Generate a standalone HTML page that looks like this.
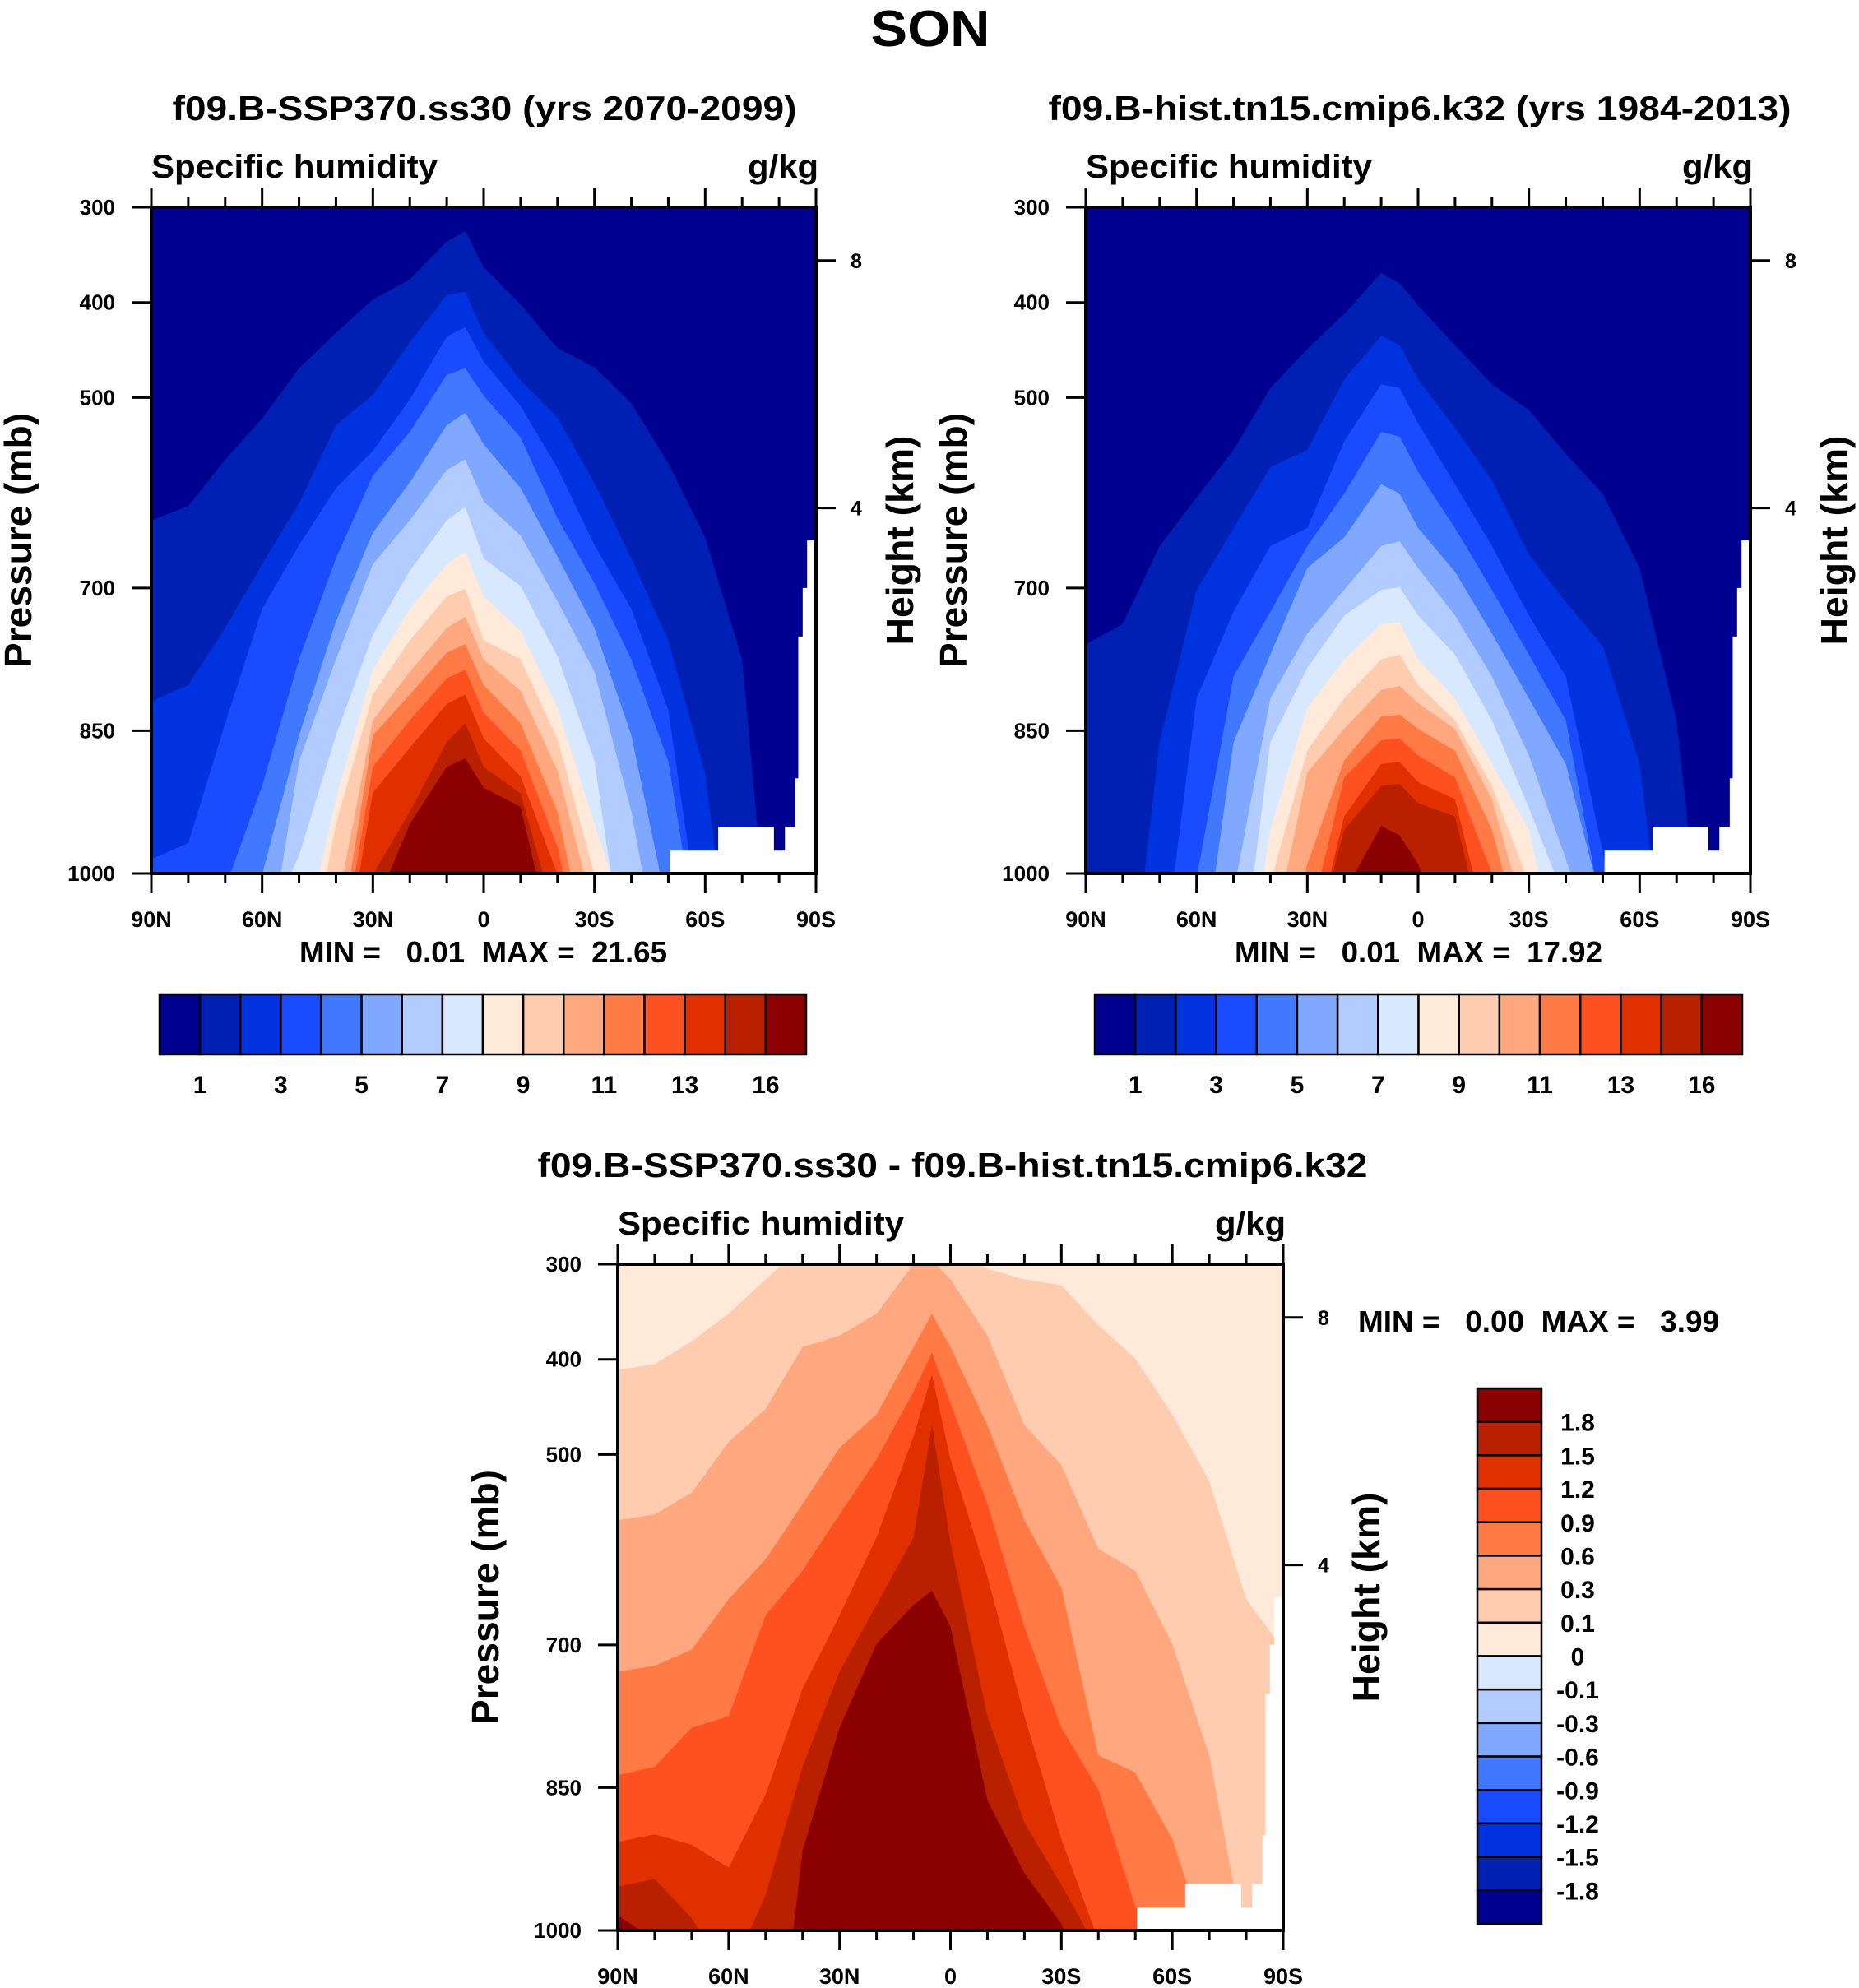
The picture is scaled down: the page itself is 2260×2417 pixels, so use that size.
<!DOCTYPE html>
<html><head><meta charset="utf-8">
<style>
html,body{margin:0;padding:0;background:#fff;overflow:hidden;width:2260px;height:2417px;}
svg{display:block;font-family:"Liberation Sans",Arial,sans-serif;font-weight:bold;}
</style></head>
<body>
<svg id="fig" width="2260" height="2417" viewBox="0 0 2260 2417" xmlns="http://www.w3.org/2000/svg">
<text x="1131" y="56" font-size="62" text-anchor="middle" textLength="145" lengthAdjust="spacingAndGlyphs">SON</text>
<g id="gA"></g>
<g id="gB"></g>
<g id="gC"></g>
</svg>
<script>
// ---- data ----
const lats = [90,80,70,60,50,40,30,20,10,5,0,-10,-20,-30,-40,-50,-60,-70,-80,-90];
const qColors = ['#000090','#0020b4','#0033e0','#1a4cff','#4078ff','#80a8ff','#b3ccff','#d8e8ff','#ffeada','#ffccb0','#ffa880','#ff7a45','#ff5020','#e03000','#b82000','#8b0000'];
const qLevelLabels = ['1','2','3','4','5','6','7','8','9','10','11','12','13','14','16'];
const diffLevelLabels = ['1.8','1.5','1.2','0.9','0.6','0.3','0.1','0','-0.1','-0.3','-0.6','-0.9','-1.2','-1.5','-1.8'];
// pressure (mb) where each contour level is crossed, per latitude (1200 = not present)
const sspQ1 = [629,614,565,522,469,432,397,376,336,325,363,402,448,468,506,569,647,775,1200,1200];
const sspQ2 = [819,802,742,675,611,529,497,442,392,389,432,482,521,590,669,755,895,1200,1200,1200];
const sspQ3 = [985,968,842,722,655,595,556,502,436,426,462,509,574,655,722,828,1095,1200,1200,1200];
const sspQ4 = [1200,1200,1015,908,775,669,582,536,476,469,498,542,627,695,775,882,1121,1200,1200,1200];
const sspQ5 = [1200,1200,1200,1001,855,735,642,589,529,516,549,595,667,742,855,1041,1200,1200,1200,1200];
const sspQ6 = [1200,1200,1200,1121,882,775,675,629,576,565,609,645,714,788,935,1148,1200,1200,1200,1200];
const sspQ7 = [1200,1200,1200,1068,981,855,749,682,629,615,669,698,772,882,1148,1200,1200,1200,1200,1200];
const sspQ8 = [1200,1200,1200,1200,1095,921,786,722,675,662,709,745,826,948,1068,1200,1200,1200,1200,1200];
const sspQ9 = [1200,1200,1200,1200,1148,948,812,755,709,701,755,775,859,1001,1148,1200,1200,1200,1200,1200];
const sspQ10 = [1200,1200,1200,1200,1200,1041,839,788,742,730,775,808,892,1041,1200,1200,1200,1200,1200,1200];
const sspQ11 = [1200,1200,1200,1200,1200,1095,855,812,768,759,802,842,935,1121,1200,1200,1200,1200,1200,1200];
const sspQ12 = [1200,1200,1200,1200,1200,1121,888,839,795,786,831,871,972,1148,1200,1200,1200,1200,1200,1200];
const sspQ13 = [1200,1200,1200,1200,1200,1148,915,868,822,812,858,898,1001,1174,1200,1200,1200,1200,1200,1200];
const sspQ14 = [1200,1200,1200,1200,1200,1200,1001,935,862,842,888,916,1055,1200,1200,1200,1200,1200,1200,1200];
const sspQ15 = [1200,1200,1200,1200,1200,1200,1041,948,888,879,910,930,1095,1200,1200,1200,1200,1200,1200,1200];

const histQ1 = [759,738,656,605,555,490,449,412,369,380,403,445,486,513,559,601,679,839,1200,1200];
const histQ2 = [1200,1200,862,702,637,573,555,481,435,445,481,532,587,665,715,761,885,1200,1200,1200];
const histQ3 = [1200,1200,1120,816,725,656,637,546,486,490,527,591,656,729,793,977,1200,1200,1200,1200];
const histQ4 = [1200,1200,1200,1005,793,725,656,601,536,541,578,637,702,770,839,1045,1200,1200,1200,1200];
const histQ5 = [1200,1200,1200,1140,862,770,679,647,591,601,637,683,748,816,885,1036,1200,1200,1200,1200];
const histQ6 = [1200,1200,1200,1200,1020,816,748,702,656,651,679,729,793,876,985,1100,1200,1200,1200,1200];
const histQ7 = [1200,1200,1200,1200,1169,862,784,729,702,699,729,770,839,931,1030,1200,1200,1200,1200,1200];
const histQ8 = [1200,1200,1200,1200,1200,954,826,775,738,736,775,816,885,954,1124,1200,1200,1200,1200,1200];
const histQ9 = [1200,1200,1200,1200,1200,1010,871,816,775,770,802,839,908,1010,1200,1200,1200,1200,1200,1200];
const histQ10 = [1200,1200,1200,1200,1200,1080,894,848,807,803,821,848,922,1060,1200,1200,1200,1200,1200,1200];
const histQ11 = [1200,1200,1200,1200,1200,1150,990,881,835,833,848,871,954,1100,1200,1200,1200,1200,1200,1200];
const histQ12 = [1200,1200,1200,1200,1200,1200,1060,899,860,858,876,899,1000,1150,1200,1200,1200,1200,1200,1200];
const histQ13 = [1200,1200,1200,1200,1200,1200,1100,940,885,883,904,922,1080,1200,1200,1200,1200,1200,1200,1200];
const histQ14 = [1200,1200,1200,1200,1200,1200,1100,954,908,906,926,940,1100,1200,1200,1200,1200,1200,1200,1200];
const histQ15 = [1200,1200,1200,1200,1200,1200,1200,1020,950,960,990,1100,1200,1200,1200,1200,1200,1200,1200,1200];

const diffD01 = [411,405,381,352,316,280,280,280,280,280,280,305,316,322,364,399,458,528,652,705];
const diffD03 = [569,563,540,487,452,387,375,352,300,296,316,375,469,511,599,622,699,816,1022,1200];
const diffD06 = [728,722,705,652,610,552,493,458,387,352,387,469,569,640,816,834,904,1022,1200,1200];
const diffD09 = [837,828,787,775,669,622,563,505,434,393,446,552,681,787,852,975,1022,1200,1200,1200];
const diffD12 = [907,899,910,934,857,746,669,587,481,416,505,628,775,904,1010,1200,1200,1200,1200,1200];
const diffD15 = [954,946,987,1050,963,828,728,658,587,469,593,775,887,952,1022,1200,1200,1200,1200,1200];
const diffD18 = [984,1010,1100,1100,1400,916,787,699,658,643,681,863,940,993,1100,1200,1200,1200,1200,1200];

// below-ground mask: [lat start, lat end, pressure of surface]
const maskLatStart = [-50.5,-63.5,-78.5,-81.6,-84.4,-85.2,-86.4,-87.6];
const maskLatEnd   = [-63.5,-78.5,-81.6,-84.4,-85.2,-86.4,-87.6,-90];
const maskSurfaceP = [976,951,976,951,900,751,700,650];

const pTicks = [300,400,500,700,850,1000];
const latTicks = [90,60,30,0,-30,-60,-90];
const latTickLabels = ['90N','60N','30N','0','30S','60S','90S'];
const heightTicksP = [356,616];
const heightTickLabels = ['8','4'];

// ---- drawing ----
const NS='http://www.w3.org/2000/svg';
function mk(parent, tag, attrs){const e=document.createElementNS(NS,tag);for(const k in attrs)e.setAttribute(k,attrs[k]);parent.appendChild(e);return e;}

function drawPanel(g, id, F, rows, colors, bg, info){
  const X = lat => F.x0 + (90-lat)/180*(F.x1-F.x0);
  const Y = p => F.y0 + (p-300)/700*(F.y1-F.y0);
  const defs = mk(g,'defs',{});
  const cp = mk(defs,'clipPath',{id:'clip'+id});
  mk(cp,'rect',{x:F.x0,y:F.y0,width:F.x1-F.x0,height:F.y1-F.y0});
  const field = mk(g,'g',{'clip-path':'url(#clip'+id+')'});
  
  
  const bgr = mk(field,'rect',{x:F.x0,y:F.y0,width:F.x1-F.x0,height:F.y1-F.y0,fill:bg});
  
  
  rows.forEach((row,k)=>{
    let d='M'+X(90)+','+(F.y1+400);
    row.forEach((p,i)=>{ const pc=Math.max(200,Math.min(1250,p)); d+=' L'+X(lats[i]).toFixed(1)+','+Y(pc).toFixed(1); });
    d+=' L'+X(-90)+','+(F.y1+400)+' Z';
    const path = mk(field,'path',{d:d,fill:colors[k]});
    
    
  });
  maskSurfaceP.forEach((p,i)=>{
    const xa=X(maskLatStart[i]), xb=X(maskLatEnd[i]);
    const r = mk(field,'rect',{x:xa,y:Y(p),width:xb-xa+0.5,height:F.y1-Y(p)+2,fill:'#fff'});
    
    
  });
  const fr = mk(g,'rect',{x:F.x0,y:F.y0,width:F.x1-F.x0,height:F.y1-F.y0,fill:'none',stroke:'#000','stroke-width':4});
  
  
  for(let lat=90;lat>=-90;lat-=10){
    const major = lat%30===0; const len = major?24:12; const x=X(lat);
    mk(g,'line',{x1:x,y1:F.y1,x2:x,y2:F.y1+len,stroke:'#000','stroke-width':3});
    mk(g,'line',{x1:x,y1:F.y0,x2:x,y2:F.y0-len,stroke:'#000','stroke-width':3});
  }
  latTicks.forEach((lat,i)=>{
    const t = mk(g,'text',{x:X(lat),y:F.y1+65,'font-size':27,'text-anchor':'middle'});
    t.textContent = latTickLabels[i];
    
    
  });
  pTicks.forEach(p=>{
    const y=Y(p);
    mk(g,'line',{x1:F.x0-24,y1:y,x2:F.x0,y2:y,stroke:'#000','stroke-width':3});
    const t = mk(g,'text',{x:F.x0-44,y:y+9,'font-size':26,'text-anchor':'end'});
    t.textContent = String(p);
    
    
  });
  heightTicksP.forEach((p,i)=>{
    const y=Y(p);
    mk(g,'line',{x1:F.x1,y1:y,x2:F.x1+24,y2:y,stroke:'#000','stroke-width':3});
    const t = mk(g,'text',{x:F.x1+42,y:y+9,'font-size':25,'text-anchor':'start'});
    t.textContent = heightTickLabels[i];
    
    
  });
  const sh = mk(g,'text',{x:F.x0,y:F.y0-36,'font-size':40,textLength:348,lengthAdjust:'spacingAndGlyphs'});
  sh.textContent='Specific humidity';
  
  
  const un = mk(g,'text',{x:F.x1+3,y:F.y0-36,'font-size':40,'text-anchor':'end',textLength:86,lengthAdjust:'spacingAndGlyphs'});
  un.textContent='g/kg';
  
  
  const tt = mk(g,'text',{x:info.tx,y:info.ty,'font-size':42,'text-anchor':'middle',textLength:info.tw,lengthAdjust:'spacingAndGlyphs'});
  tt.textContent=info.title;
  
  
  const py = (F.y0+F.y1)/2;
  const pl = mk(g,'text',{x:0,y:0,'font-size':46,'text-anchor':'middle',textLength:310,lengthAdjust:'spacingAndGlyphs',transform:'translate('+(info.px)+','+py+') rotate(-90)'});
  pl.textContent='Pressure (mb)';
  
  
  const hl = mk(g,'text',{x:0,y:0,'font-size':46,'text-anchor':'middle',textLength:255,lengthAdjust:'spacingAndGlyphs',transform:'translate('+(info.hx)+','+py+') rotate(-90)'});
  hl.textContent='Height (km)';
  
  
  const mm = mk(g,'text',{x:info.mx,y:info.my,'font-size':36,'text-anchor':'start',textLength:info.mw,lengthAdjust:'spacingAndGlyphs',style:'white-space:pre'});
  mm.textContent=info.minmax;
  
  
}

function hColorbar(g, x0, x1, y0, y1){
  const w=(x1-x0)/qColors.length;
  qColors.forEach((c,i)=>{
    const r=mk(g,'rect',{x:x0+i*w,y:y0,width:w,height:y1-y0,fill:c,stroke:'#000','stroke-width':2.5});
    
    
  });
  qLevelLabels.forEach((lab,i)=>{
    if(i%2!==0) return;
    const t=mk(g,'text',{x:x0+(i+1)*w,y:y1+47,'font-size':30,'text-anchor':'middle'});
    t.textContent=lab;
    
    
  });
}

const sspRows=[sspQ1,sspQ2,sspQ3,sspQ4,sspQ5,sspQ6,sspQ7,sspQ8,sspQ9,sspQ10,sspQ11,sspQ12,sspQ13,sspQ14,sspQ15];
const histRows=[histQ1,histQ2,histQ3,histQ4,histQ5,histQ6,histQ7,histQ8,histQ9,histQ10,histQ11,histQ12,histQ13,histQ14,histQ15];
const diffRows=[diffD01,diffD03,diffD06,diffD09,diffD12,diffD15,diffD18];

const gA=document.getElementById('gA'), gB=document.getElementById('gB'), gC=document.getElementById('gC');
drawPanel(gA,'A',{x0:184,x1:992,y0:252,y1:1062},sspRows,qColors.slice(1),qColors[0],
  {title:'f09.B-SSP370.ss30 (yrs 2070-2099)',tx:589,ty:146,tw:759,px:38,hx:1110,mx:364,my:1170,mw:447,minmax:'MIN =   0.01  MAX =  21.65'});
drawPanel(gB,'B',{x0:1320,x1:2128,y0:252,y1:1062},histRows,qColors.slice(1),qColors[0],
  {title:'f09.B-hist.tn15.cmip6.k32 (yrs 1984-2013)',tx:1726,ty:146,tw:903,px:1175,hx:2246,mx:1501,my:1170,mw:447,minmax:'MIN =   0.01  MAX =  17.92'});
drawPanel(gC,'C',{x0:751,x1:1560,y0:1537,y1:2347},diffRows,qColors.slice(9),qColors[8],
  {title:'f09.B-SSP370.ss30 - f09.B-hist.tn15.cmip6.k32',tx:1158,ty:1431,tw:1009,px:606,hx:1677,mx:1651,my:1619,mw:439,minmax:'MIN =   0.00  MAX =   3.99'});
hColorbar(gA,194,980,1209,1282);
hColorbar(gB,1331,2118,1209,1282);
(function(){
  const x0=1796,x1=1874,y0=1688,y1=2339; const h=(y1-y0)/16;
  const rev=qColors.slice().reverse();
  rev.forEach((c,i)=>{
    const r=mk(gC,'rect',{x:x0,y:y0+i*h,width:x1-x0,height:h,fill:c,stroke:'#000','stroke-width':2.5});
    
    
  });
  diffLevelLabels.forEach((lab,i)=>{
    const t=mk(gC,'text',{x:1918,y:y0+(i+1)*h+11,'font-size':30,'text-anchor':'middle'});
    t.textContent=lab;
    
    
  });
})();
</script>
</body></html>
